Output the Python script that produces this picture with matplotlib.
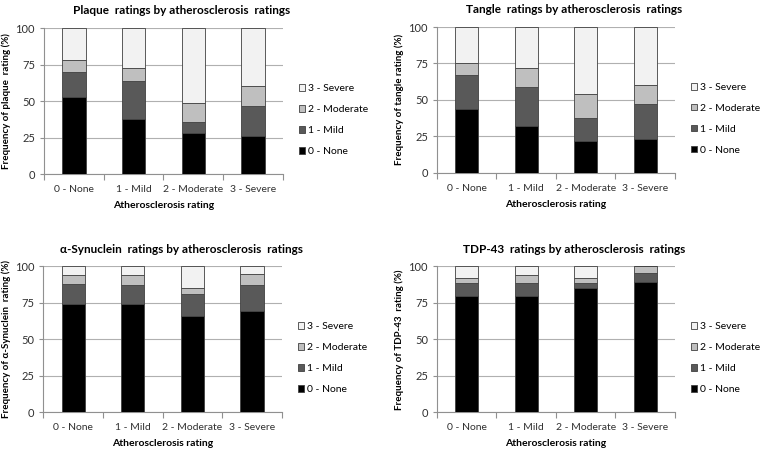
import matplotlib.pyplot as plt
import numpy as np

plt.rcParams['font.family'] = ['Lato', 'DejaVu Sans']

# categories on the x axis (atherosclerosis rating)
categories = ["0 - None", "1 - Mild", "2 - Moderate", "3 - Severe"]
levels = ["0 - None", "1 - Mild", "2 - Moderate", "3 - Severe"]
colors = ["#000000", "#595959", "#bfbfbf", "#f2f2f2"]

# percentages per level (None, Mild, Moderate, Severe) for each atherosclerosis category
plaque_none = [53, 38, 28.5, 26]
plaque_mild = [17, 26, 7.5, 21]
plaque_moderate = [8, 9, 13, 13.5]
plaque_severe = [22, 27, 51, 39.5]

tangle_none = [43.5, 32, 22, 23]
tangle_mild = [23.5, 27, 15.5, 24]
tangle_moderate = [8.5, 13, 16.5, 13]
tangle_severe = [24.5, 28, 46, 40]

syn_none = [74, 74, 66, 69.5]
syn_mild = [14, 13, 15, 17.5]
syn_moderate = [6, 7, 4.5, 8]
syn_severe = [6, 6, 14.5, 5]

tdp_none = [80, 79.5, 85.5, 89.5]
tdp_mild = [8.5, 9, 3, 6]
tdp_moderate = [3.5, 5.5, 3.5, 4.5]
tdp_severe = [8, 6, 8, 0]

panels = [
    ("Plaque  ratings by atherosclerosis  ratings", "Frequency of plaque  rating (%)",
     [plaque_none, plaque_mild, plaque_moderate, plaque_severe], [0.058, 0.613, 0.314, 0.324]),
    ("Tangle  ratings by atherosclerosis  ratings", "Frequency of tangle rating (%)",
     [tangle_none, tangle_mild, tangle_moderate, tangle_severe], [0.575, 0.616, 0.313, 0.324]),
    ("\u03b1-Synuclein  ratings by atherosclerosis  ratings", "Frequency of \u03b1-Synuclein  rating (%)",
     [syn_none, syn_mild, syn_moderate, syn_severe], [0.057, 0.084, 0.314, 0.324]),
    ("TDP-43  ratings by atherosclerosis  ratings", "Frequency of TDP-43  rating (%)",
     [tdp_none, tdp_mild, tdp_moderate, tdp_severe], [0.575, 0.084, 0.313, 0.324]),
]

fig = plt.figure(figsize=(7.6, 4.5), dpi=100)
x = np.arange(len(categories))

for title, ylabel, series, pos in panels:
    ax = fig.add_axes(pos)
    bottom = np.zeros(len(categories))
    handles = []
    for vals, lab, col in zip(series, levels, colors):
        b = ax.bar(x, vals, width=0.39, bottom=bottom, color=col,
                   edgecolor="#404040", linewidth=0.6, label=lab, zorder=3)
        handles.append(b)
        bottom += np.array(vals)

    ax.set_ylim(0, 100)
    ax.set_xlim(-0.5, 3.5)
    ax.set_yticks([0, 25, 50, 75, 100])
    ax.grid(axis="y", color="#b0b0b0", linewidth=0.8, zorder=0)
    ax.set_xticks(x)
    ax.set_xticklabels(categories)
    ax.set_xticks([-0.5, 0.5, 1.5, 2.5, 3.5], minor=True)
    ax.tick_params(axis="x", which="major", length=0, labelsize=7.5, pad=8, colors="#303030")
    ax.tick_params(axis="x", which="minor", length=4, color="#909090", width=0.8)
    ax.tick_params(axis="y", length=3, color="#909090", labelsize=8, colors="#303030")
    for s in ["top", "right"]:
        ax.spines[s].set_visible(False)
    for s in ["left", "bottom"]:
        ax.spines[s].set_color("#909090")
        ax.spines[s].set_linewidth(0.8)

    ax.set_title(title, fontsize=8.5, fontweight="bold", pad=10, x=0.577)
    ax.set_ylabel(ylabel, fontsize=7, fontweight="bold", labelpad=3)
    ax.set_xlabel("Atherosclerosis rating", fontsize=7.5, fontweight="bold", labelpad=5)

    ax.legend(handles[::-1], levels[::-1], loc="center left", bbox_to_anchor=(1.05, 0.37),
              frameon=False, fontsize=7.5, handlelength=0.6, handleheight=0.6,
              handletextpad=0.3, labelspacing=1.15, borderaxespad=0)

fig.savefig("out.png", dpi=100)
